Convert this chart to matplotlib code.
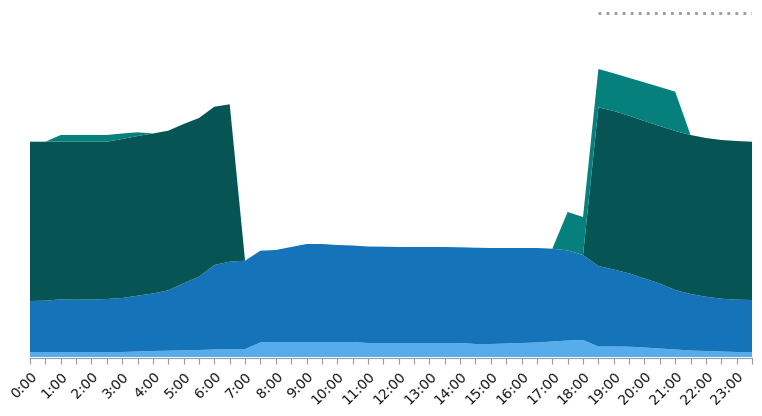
import numpy as np
import matplotlib
matplotlib.use("Agg")
import matplotlib.pyplot as plt

# half-hour slots, 0:00 .. 23:30
slots = [f"{h}:{m:02d}" for h in range(24) for m in (0, 30)]

# layer values (bottom -> top)
light_blue = [5, 5, 5, 5, 5, 5, 5, 5.5, 6, 6.3, 6.6, 7, 7.5, 7.8, 8, 14.5,
              15, 15, 15, 15, 15, 15, 14, 14, 14, 14, 14, 14, 14, 13, 13, 13.5,
              14, 14.5, 15.5, 16.5, 17, 10.5, 10.5, 10.3, 9.5, 8.5, 7.5, 6.5, 6, 5.5, 5, 5]
mid_blue = [51, 51.3, 52.7, 52.3, 52.5, 53, 54, 55.8, 57.5, 60.4, 67.1, 73.3, 84.5, 87.5, 88.3, 91.8,
            92, 95, 98, 98, 97, 96.5, 96.5, 96.3, 96, 96, 96, 96, 95.7, 96.3, 96, 95.5,
            95, 94.5, 92.8, 90, 85, 80.5, 77, 73.4, 69, 65, 59.5, 56.5, 54.3, 52.8, 52.3, 52]
dark_teal = [159.3, 159, 157.6, 158, 157.8, 157.3, 159, 159.7, 160, 159.6, 159.3, 158.7, 158.3, 157.4, 0, 0,
             0, 0, 0, 0, 0, 0, 0, 0, 0, 0, 0, 0, 0, 0, 0, 0,
             0, 0, 0, 0, 0, 158.7, 158.5, 157.6, 157.5, 157.5, 159, 159, 158.7, 158.7, 158.7, 158.3]
teal = [0, 0, 6.7, 6.7, 6.7, 6.7, 5.5, 3.7, 0, 0, 0, 0, 0, 0, 0, 0,
        0, 0, 0, 0, 0, 0, 0, 0, 0, 0, 0, 0, 0, 0, 0, 0,
        0, 0, 0, 38.5, 38, 38.3, 37.7, 37.8, 38.6, 39, 39.3, 0, 0, 0, 0, 0]
# dotted reference line (only drawn in the evening)
limit = [np.nan] * 37 + [344] * 11

colors = ["#57ADEB", "#1473B9", "#065554", "#06807C"]

x = np.arange(len(slots))

fig = plt.figure(figsize=(7.62, 4.16), dpi=100)
ax = fig.add_axes([30 / 762, (416 - 357) / 416, 722 / 762, 352 / 416])

ax.stackplot(x, light_blue, mid_blue, dark_teal, teal, colors=colors, linewidth=0)
ax.plot(x, limit, color="#999999", linewidth=2, linestyle=(0, (1, 1.9)),
        dash_capstyle="butt")

ax.set_xlim(0, len(slots) - 1)
ax.set_ylim(0, 352)
ax.set_yticks([])
for s in ["left", "right", "top"]:
    ax.spines[s].set_visible(False)
ax.spines["bottom"].set_color("#9a9a9a")
ax.spines["bottom"].set_position(("outward", 1))

ax.set_xticks(x)
ax.set_xticklabels([s if s.endswith(":00") else "" for s in slots],
                   rotation=45, ha="right", rotation_mode="anchor", fontsize=10)
ax.tick_params(axis="x", length=4, color="#9a9a9a", pad=4, labelcolor="#111111")

plt.savefig("out.png", dpi=100)
